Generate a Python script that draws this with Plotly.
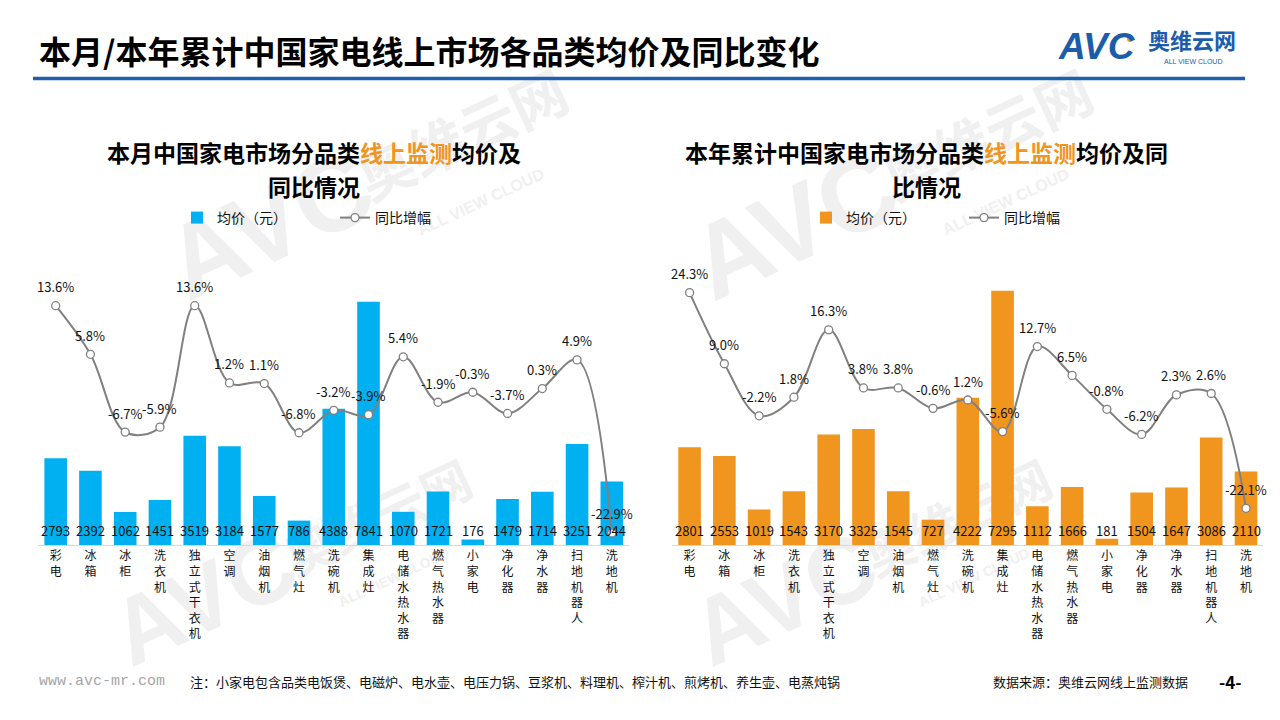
import plotly.graph_objects as go

# ---------------- data ----------------
categories = ["彩电", "冰箱", "冰柜", "洗衣机", "独立式干衣机", "空调", "油烟机", "燃气灶", "洗碗机",
              "集成灶", "电储水热水器", "燃气热水器", "小家电", "净化器", "净水器", "扫地机器人", "洗地机"]
month_price = [2793, 2392, 1062, 1451, 3519, 3184, 1577, 786, 4388, 7841, 1070, 1721, 176, 1479, 1714, 3251, 2044]
month_yoy = [13.6, 5.8, -6.7, -5.9, 13.6, 1.2, 1.1, -6.8, -3.2, -3.9, 5.4, -1.9, -0.3, -3.7, 0.3, 4.9, -22.9]
ytd_price = [2801, 2553, 1019, 1543, 3170, 3325, 1545, 727, 4222, 7295, 1112, 1666, 181, 1504, 1647, 3086, 2110]
ytd_yoy = [24.3, 9.0, -2.2, 1.8, 16.3, 3.8, 3.8, -0.6, 1.2, -5.6, 12.7, 6.5, -0.8, -6.2, 2.3, 2.6, -22.1]

main_title = "本月/本年累计中国家电线上市场各品类均价及同比变化"
left_title = ["本月中国家电市场分品类<span style='color:#F0951E'>线上监测</span>均价及", "同比情况"]
right_title = ["本年累计中国家电市场分品类<span style='color:#F0951E'>线上监测</span>均价及同", "比情况"]
bar_name = "均价（元）"
line_name = "同比增幅"
footnote = "注：小家电包含品类电饭煲、电磁炉、电水壶、电压力锅、豆浆机、料理机、榨汁机、煎烤机、养生壶、电蒸炖锅"
source = "数据来源：奥维云网线上监测数据"
site = "www.avc-mr.com"
page_no = "-4-"

# ---------------- style ----------------
FONT = "Noto Sans CJK SC"
BLUE = "#00B0F0"
ORANGE = "#F0951E"
GRAY = "#808080"
LOGO_BLUE = "#1C5DAA"
W, H = 1280, 720


def px(x):
    return x / W


def py(y):
    return 1 - y / H


tick_text = ["<br>".join(c) for c in categories]

fig = go.Figure()


def add_chart(prices, yoy, color, xa, ya_bar, ya_line, legend):
    fig.add_trace(go.Bar(
        x=categories, y=prices, name=bar_name, marker=dict(color=color, line=dict(width=0)),
        width=0.65, xaxis=xa, yaxis=ya_bar, legend=legend, hoverinfo="x+y"))
    fig.add_trace(go.Scatter(
        x=categories, y=yoy, name=line_name, mode="lines+markers",
        line=dict(color=GRAY, width=2, shape="spline", smoothing=1),
        marker=dict(size=8, color="white", line=dict(color=GRAY, width=1.3)),
        xaxis=xa, yaxis=ya_line, legend=legend))
    for c, v in zip(categories, prices):
        fig.add_annotation(x=c, y=0, xref=xa, yref=ya_bar, text=str(v), showarrow=False,
                           yanchor="middle", yshift=15,
                           font=dict(family=FONT, size=13, color="#111111"))
    for c, v in zip(categories, yoy):
        fig.add_annotation(x=c, y=v, xref=xa, yref=ya_line, text=f"{v:.1f}%", showarrow=False,
                           yanchor="middle", yshift=19,
                           font=dict(family=FONT, size=13, color="#111111"))


add_chart(month_price, month_yoy, BLUE, "x", "y", "y2", "legend")
add_chart(ytd_price, ytd_yoy, ORANGE, "x2", "y3", "y4", "legend2")

ydom = [py(545), py(250)]
xcommon = dict(type="category", categoryorder="array", categoryarray=categories,
               tickmode="array", tickvals=categories, ticktext=tick_text,
               showline=True, linecolor="#D9D9D9", linewidth=1, ticks="", showgrid=False,
               zeroline=False, range=[-0.5, 16.5],
               tickfont=dict(family=FONT, size=12, color="#111111"), fixedrange=True)
ycommon = dict(visible=False, showgrid=False, zeroline=False, fixedrange=True)

legcommon = dict(orientation="h", xanchor="left", yanchor="middle", entrywidth=113,
                 entrywidthmode="pixels", bgcolor="rgba(0,0,0,0)", borderwidth=0,
                 font=dict(family=FONT, size=14, color="#111111"), itemclick=False,
                 itemdoubleclick=False, traceorder="normal")

fig.update_layout(
    width=W, height=H, autosize=False,
    margin=dict(l=0, r=0, t=0, b=0),
    paper_bgcolor="white", plot_bgcolor="rgba(0,0,0,0)",
    bargap=0.35,
    xaxis=dict(domain=[px(38.3), px(629.2)], anchor="y", **xcommon),
    yaxis=dict(domain=ydom, range=[0, 9507], anchor="x", **ycommon),
    yaxis2=dict(range=[-24.83, 22.55], overlaying="y", anchor="x", **ycommon),
    xaxis2=dict(domain=[px(672.2), px(1263.4)], anchor="y3", **xcommon),
    yaxis3=dict(domain=ydom, range=[0, 8462], anchor="x2", **ycommon),
    yaxis4=dict(range=[-30.0, 33.48], overlaying="y3", anchor="x2", **ycommon),
    legend=dict(x=px(177), y=py(218), **legcommon),
    legend2=dict(x=px(806), y=py(218), **legcommon),
    showlegend=True,
)

# ---------------- titles & texts ----------------
fig.add_annotation(x=px(37), y=py(50), xref="paper", yref="paper", xanchor="left", yanchor="middle",
                   text=f"<b>{main_title}</b>", showarrow=False,
                   font=dict(family=FONT, size=32, color="#000000"))
for cx, lines in [(313.5, left_title), (926.5, right_title)]:
    for i, t in enumerate(lines):
        fig.add_annotation(x=px(cx), y=py(152 + 34 * i), xref="paper", yref="paper",
                           xanchor="center", yanchor="middle", text=f"<b>{t}</b>",
                           showarrow=False, borderpad=0,
                           font=dict(family=FONT, size=23, color="#000000"))

fig.add_annotation(x=px(37), y=py(681), xref="paper", yref="paper", xanchor="left", yanchor="middle",
                   text=site, showarrow=False,
                   font=dict(family="Liberation Mono", size=15, color="#A6A6A6"))
fig.add_annotation(x=px(188), y=py(681), xref="paper", yref="paper", xanchor="left", yanchor="middle",
                   text=footnote, showarrow=False, font=dict(family=FONT, size=13, color="#111111"))
fig.add_annotation(x=px(1190), y=py(681), xref="paper", yref="paper", xanchor="right", yanchor="middle",
                   text=source, showarrow=False, font=dict(family=FONT, size=13, color="#111111"))
fig.add_annotation(x=px(1230), y=py(681), xref="paper", yref="paper", xanchor="center", yanchor="middle",
                   text=f"<b>{page_no}</b>", showarrow=False, font=dict(family=FONT, size=17, color="#000000"))

# title underline
fig.add_shape(type="line", xref="paper", yref="paper", x0=px(33), x1=px(1245), y0=py(78.5), y1=py(78.5),
              line=dict(color="#1F5FAE", width=3.5))

# logo
fig.add_annotation(x=px(1097), y=py(46), xref="paper", yref="paper", xanchor="center", yanchor="middle",
                   text="<b><i>AVC</i></b>", showarrow=False,
                   font=dict(family="Liberation Sans", size=37, color=LOGO_BLUE))
fig.add_shape(type="circle", xref="paper", yref="paper", x0=px(1127), x1=px(1133), y0=py(42), y1=py(36),
              fillcolor="#F39A1E", line=dict(width=0))
fig.add_annotation(x=px(1192), y=py(56), xref="paper", yref="paper", xanchor="center", yanchor="bottom",
                   text="<b>奥维云网</b>", showarrow=False, borderpad=0,
                   font=dict(family=FONT, size=22, color=LOGO_BLUE))
fig.add_annotation(x=px(1193), y=py(56.5), xref="paper", yref="paper", xanchor="center", yanchor="top",
                   text="ALL VIEW CLOUD", showarrow=False, borderpad=0,
                   font=dict(family="Liberation Sans", size=7, color=LOGO_BLUE))

# faint watermarks (below everything)
WM = "#F0F0F0"


def watermark(cx, cy, scale=1.0):
    items = [("<b>AVC</b>", 0, 0, 105, "Liberation Sans"),
             ("<b>奥维云网</b>", 200, -75, 56, FONT),
             ("<b>ALL VIEW CLOUD</b>", 215, -15, 16, "Liberation Sans")]
    for txt, dx, dy, size, fam in items:
        x, y = cx + dx * scale, cy + dy * scale
        fig.add_shape(type="rect", xref="paper", yref="paper", layer="below",
                      x0=px(x - 5), x1=px(x + 5), y0=py(y + 5), y1=py(y - 5),
                      line=dict(width=0), fillcolor="rgba(0,0,0,0)",
                      label=dict(text=txt, textangle=-25, textposition="middle center",
                                 font=dict(family=fam, size=round(size * scale), color=WM)))


for cx, cy, s in [(265, 215, 1.0), (200, 590, 0.9), (790, 215, 1.0), (780, 590, 0.9)]:
    watermark(cx, cy, s)

fig.write_html("out.html")
